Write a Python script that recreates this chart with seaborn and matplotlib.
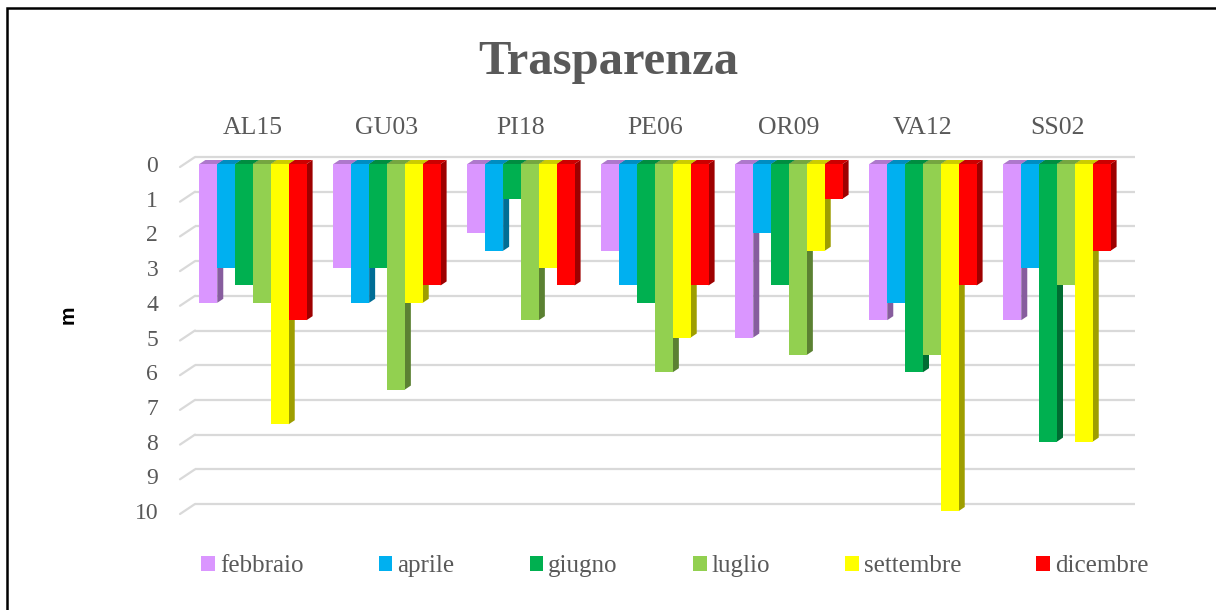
import pandas as pd
import seaborn as sns
import matplotlib.pyplot as plt
import matplotlib.colors as mcolors
from matplotlib.patches import Polygon, Rectangle

# stazioni e campagne
stazioni = ["AL15", "GU03", "PI18", "PE06", "OR09", "VA12", "SS02"]
mesi = ["febbraio", "aprile", "giugno", "luglio", "settembre", "dicembre"]
colori = ["#DA96FF", "#00B0F0", "#00B050", "#92D050", "#FFFF00", "#FF0000"]

# trasparenza (m)
febbraio = [4, 3, 2, 2.5, 5, 4.5, 4.5]
aprile = [3, 4, 2.5, 3.5, 2, 4, 3]
giugno = [3.5, 3, 1, 4, 3.5, 6, 8]
luglio = [4, 6.5, 4.5, 6, 5.5, 5.5, 3.5]
settembre = [7.5, 4, 3, 5, 2.5, 10, 8]
dicembre = [4.5, 3.5, 3.5, 3.5, 1, 3.5, 2.5]
yticks = list(range(0, 11))

serie = [febbraio, aprile, giugno, luglio, settembre, dicembre]
df = pd.DataFrame([(s, m, v) for m, vals in zip(mesi, serie) for s, v in zip(stazioni, vals)],
                  columns=["stazione", "mese", "valore"])

sns.set_style("white")
plt.rcParams['font.family'] = ['Liberation Serif', 'DejaVu Serif']
grigio = "#595959"

W, H = 1216, 610
fig = plt.figure(figsize=(W / 100, H / 100), dpi=100)
ax_l, ax_r, ax_t, ax_b = 186, 1124, 164, 511
ax = fig.add_axes([ax_l / W, 1 - ax_b / H, (ax_r - ax_l) / W, (ax_b - ax_t) / H])

sns.barplot(data=df, x="stazione", y="valore", hue="mese", order=stazioni, hue_order=mesi,
            palette=colori, saturation=1, width=0.8, linewidth=0, ax=ax, zorder=2)
ax.set_ylim(10, 0)
ax.set_xlim(-0.5, len(stazioni) - 0.5)

# pixel per unita' (per effetto 3D)
px_x = (ax_r - ax_l) / len(stazioni)
px_y = (ax_b - ax_t) / 10
dx, dy = 6 / px_x, 4 / px_y

def scuro(c, f):
    r, g, b = mcolors.to_rgb(c)
    return (r * f, g * f, b * f)

for cont, col in zip(ax.containers, colori):
    for p in cont.patches:
        x0 = p.get_x()
        x1 = x0 + p.get_width()
        y0 = p.get_y()
        y1 = y0 + p.get_height()
        lato = Polygon([(x1, y0), (x1 + dx, y0 - dy), (x1 + dx, y1 - dy), (x1, y1)],
                       closed=True, facecolor=scuro(col, 0.62), edgecolor="none",
                       zorder=1.5, clip_on=False)
        cima = Polygon([(x0, y0), (x1, y0), (x1 + dx, y0 - dy), (x0 + dx, y0 - dy)],
                       closed=True, facecolor=scuro(col, 0.8), edgecolor="none",
                       zorder=1.6, clip_on=False)
        ax.add_patch(lato)
        ax.add_patch(cima)
        p.set_clip_on(False)

# griglia "di fondo" con tratto obliquo a sinistra
gx0 = -0.5 + 9 / px_x
gx1 = len(stazioni) - 0.5 + 11 / px_x
for v in yticks:
    ax.plot([gx0, gx1], [v - 7 / px_y, v - 7 / px_y], color="#D9D9D9", lw=1.6,
            zorder=0.5, clip_on=False, solid_capstyle="butt")
    ax.plot([-0.5 - 6 / px_x, gx0], [v + 3 / px_y, v - 7 / px_y], color="#D9D9D9", lw=1.6,
            zorder=0.5, clip_on=False)

for s in ax.spines.values():
    s.set_visible(False)
ax.xaxis.tick_top()
ax.set_xlabel("")
ax.set_ylabel("")
ax.set_yticks(yticks)
ax.tick_params(axis="y", length=0, pad=20, labelsize=17, labelcolor=grigio)
ax.tick_params(axis="x", length=0, pad=18, labelsize=18.5, labelcolor=grigio)
ax.grid(False)

handles, labels = ax.get_legend_handles_labels()
ax.get_legend().remove()
fig.legend(handles, labels, ncol=6, loc="center", bbox_to_anchor=(675 / W, 1 - 566 / H),
           frameon=False, fontsize=18, labelcolor=grigio, handlelength=0.55, handleheight=0.55,
           handletextpad=0.2, columnspacing=3.0)

fig.text(0.5, 1 - 62 / H, "Trasparenza", ha="center", va="center", fontsize=35,
         fontweight="bold", color=grigio)
fig.text(68 / W, 1 - 315 / H, "m", rotation=90, ha="center", va="center", fontsize=15,
         fontweight="bold", family=["Liberation Sans", "DejaVu Sans"], color="black")

fig.add_artist(Rectangle((7 / W, -0.1), 1.2, 1 - 8 / H + 0.1, transform=fig.transFigure,
                         fill=False, edgecolor="black", lw=1.8))

fig.savefig("out.png", dpi=100)
